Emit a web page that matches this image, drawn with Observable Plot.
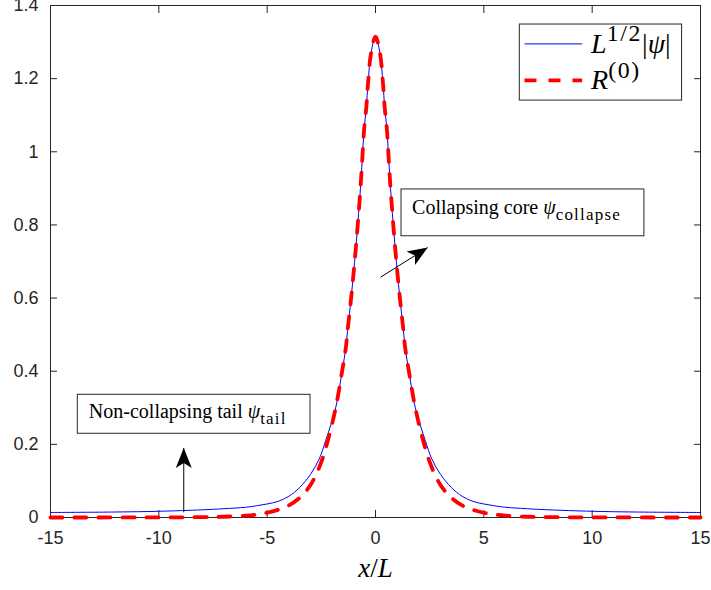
<!DOCTYPE html>
<html>
<head>
<meta charset="utf-8">
<script src="https://cdn.jsdelivr.net/npm/d3@7"></script>
<script src="https://cdn.jsdelivr.net/npm/@observablehq/plot@0.6"></script>
<style>
  html, body { margin: 0; padding: 0; background: #fff; }
</style>
</head>
<body>
<div id="chart"></div>
<script>
// ---- data ----
const psiX = [-15, -12, -10, -8, -7, -6, -5.5, -5, -4.5, -4, -3.5, -3.0, -2.6, -2.3, -1.83, -1.56, -1.365, -1.29, -1.17, -1.03, -0.905, -0.78, -0.67, -0.6, -0.53, -0.425, -0.345, -0.2, 0,
              0.2, 0.345, 0.425, 0.53, 0.6, 0.67, 0.78, 0.905, 1.03, 1.17, 1.29, 1.365, 1.56, 1.83, 2.3, 2.6, 3.0, 3.5, 4, 4.5, 5, 5.5, 6, 7, 8, 10, 12, 15];
const psiY = [0.0137, 0.015, 0.017, 0.021, 0.024, 0.028, 0.032, 0.037, 0.044, 0.058, 0.082, 0.118, 0.16, 0.21, 0.302, 0.393, 0.466, 0.511, 0.575, 0.657, 0.739, 0.831, 0.9215, 0.99, 1.058, 1.121, 1.187, 1.272, 1.315,
              1.272, 1.187, 1.121, 1.058, 0.99, 0.9215, 0.831, 0.739, 0.657, 0.575, 0.511, 0.466, 0.393, 0.302, 0.21, 0.16, 0.118, 0.082, 0.058, 0.044, 0.037, 0.032, 0.028, 0.024, 0.021, 0.017, 0.015, 0.0137];

const r0X = [-15, -10, -8, -7, -6, -5.5, -5, -4.5, -4, -3.5, -3.1, -2.8, -2.5, -2.2, -1.83, -1.56, -1.365, -1.29, -1.17, -1.03, -0.905, -0.78, -0.67, -0.6, -0.53, -0.425, -0.345, -0.2, 0,
             0.2, 0.345, 0.425, 0.53, 0.6, 0.67, 0.78, 0.905, 1.03, 1.17, 1.29, 1.365, 1.56, 1.83, 2.2, 2.5, 2.8, 3.1, 3.5, 4, 4.5, 5, 5.5, 6, 7, 8, 10, 15];
const r0Y = [0, 0.0003, 0.001, 0.002, 0.005, 0.008, 0.013, 0.021, 0.033, 0.054, 0.08, 0.11, 0.152, 0.21, 0.302, 0.393, 0.466, 0.511, 0.575, 0.657, 0.739, 0.831, 0.9215, 0.99, 1.058, 1.121, 1.187, 1.272, 1.315,
             1.272, 1.187, 1.121, 1.058, 0.99, 0.9215, 0.831, 0.739, 0.657, 0.575, 0.511, 0.466, 0.393, 0.302, 0.21, 0.152, 0.11, 0.08, 0.054, 0.033, 0.021, 0.013, 0.008, 0.005, 0.002, 0.001, 0.0003, 0];

const seriesNames = ["$L^{1/2}|\\psi|$", "$R^{(0)}$"];
const xTicks = [-15, -10, -5, 0, 5, 10, 15];
const yTicks = [0, 0.2, 0.4, 0.6, 0.8, 1, 1.2, 1.4];
const xLabel = "$x/L$";

const noteTexts = ["Non-collapsing tail $\\psi_{\\rm tail}$", "Collapsing core $\\psi_{\\rm collapse}$"];
const noteTextX = [-13.23, 1.69];
const noteTextY = [0.29, 0.848];
const noteBoxX1 = [-13.74, 1.2];
const noteBoxX2 = [-3.0, 12.41];
const noteBoxY1 = [0.229, 0.769];
const noteBoxY2 = [0.3355, 0.897];

const arrowX1 = [-8.85, 0.23];
const arrowY1 = [0.014, 0.657];
const arrowX2 = [-8.85, 2.41];
const arrowY2 = [0.19, 0.738];

// legend placement (data coordinates)
const legendBox = {x1: 6.66, x2: 14.15, y1: 1.140, y2: 1.348};
const legendLineX1 = 6.9, legendLineX2 = 9.56, legendTextX = 9.95;
const legendRowY = [1.295, 1.195];

// ---- tables ----
const psiData = psiX.map((x, i) => ({x, y: psiY[i]}));
const r0Data = r0X.map((x, i) => ({x, y: r0Y[i]}));
const notes = noteTexts.map((t, i) => ({t, x: noteTextX[i], y: noteTextY[i], bx1: noteBoxX1[i], bx2: noteBoxX2[i], by1: noteBoxY1[i], by2: noteBoxY2[i]}));
const arrows = arrowX1.map((x1, i) => ({x1, y1: arrowY1[i], x2: arrowX2[i], y2: arrowY2[i]}));
const legendRows = seriesNames.map((name, i) => ({name, y: legendRowY[i], i}));

const INK = "#262626";
const SERIF = "'Liberation Serif', 'Times New Roman', serif";

function headSymbol(angle) {
  const L = 20, W = 16, N = 15;
  const c = Math.cos(angle), s = Math.sin(angle);
  const pts = [[0, 0], [-L, W / 2], [-N, 0], [-L, -W / 2]].map(([x, y]) => [x * c - y * s, x * s + y * c]);
  return {draw(ctx) { ctx.moveTo(...pts[0]); for (let k = 1; k < pts.length; k++) ctx.lineTo(...pts[k]); ctx.closePath(); }};
}

function build(angles) {
  return Plot.plot({
    width: 711, height: 590,
    marginLeft: 50, marginRight: 11, marginTop: 5, marginBottom: 73,
    x: {domain: [-15, 15]},
    y: {domain: [0, 1.4]},
    style: {fontFamily: "'Liberation Sans', Arial, sans-serif", fontSize: "18px", color: INK, background: "#fff", overflow: "visible"},
    marks: [
      Plot.frame({stroke: INK, strokeWidth: 1}),
      Plot.axisX({ticks: xTicks, tickSize: 0, tickPadding: 14, tickFormat: d => String(d), fontSize: 18, label: null}),
      Plot.axisY({ticks: yTicks, tickSize: 0, tickPadding: 12, tickFormat: d => String(d), fontSize: 18, label: null}),
      Plot.axisX({ticks: xTicks, tickSize: -7, tickFormat: () => "", label: null, stroke: INK}),
      Plot.axisX({anchor: "top", ticks: xTicks, tickSize: -7, tickFormat: () => "", label: null, stroke: INK}),
      Plot.axisY({ticks: yTicks, tickSize: -7, tickFormat: () => "", label: null, stroke: INK}),
      Plot.axisY({anchor: "right", ticks: yTicks, tickSize: -7, tickFormat: () => "", label: null, stroke: INK}),
      Plot.text([xLabel], {x: 0, frameAnchor: "bottom", dy: 59, text: d => d, fontFamily: SERIF, fontSize: 27, fill: "#000"}),
      Plot.line(psiData, {x: "x", y: "y", stroke: "#0000ff", strokeWidth: 1, curve: "catmull-rom"}),
      Plot.line(r0Data, {x: "x", y: "y", stroke: "#ff0000", strokeWidth: 3.8, strokeDasharray: "12,12", curve: "catmull-rom"}),
      Plot.rect(notes, {x1: "bx1", x2: "bx2", y1: "by1", y2: "by2", fill: "#fff", stroke: INK, strokeWidth: 1}),
      Plot.text(notes, {x: "x", y: "y", text: "t", textAnchor: "start", fontFamily: SERIF, fontSize: 20, fill: "#000"}),
      Plot.link(arrows, {x1: "x1", y1: "y1", x2: "x2", y2: "y2", stroke: "#000", strokeWidth: 1}),
      Plot.dot([arrows[0]], {x: "x2", y: "y2", symbol: headSymbol(angles[0]), fill: "#000", stroke: "none", r: 5}),
      Plot.dot([arrows[1]], {x: "x2", y: "y2", symbol: headSymbol(angles[1]), fill: "#000", stroke: "none", r: 5}),
      Plot.rect([legendBox], {x1: "x1", x2: "x2", y1: "y1", y2: "y2", fill: "#fff", stroke: INK, strokeWidth: 1}),
      Plot.ruleY([legendRows[0]], {x1: legendLineX1, x2: legendLineX2, y: "y", stroke: "#0000ff", strokeWidth: 1}),
      Plot.ruleY([legendRows[1]], {x1: legendLineX1, x2: legendLineX2, y: "y", stroke: "#ff0000", strokeWidth: 3.8, strokeDasharray: "12,12"}),
      Plot.text(legendRows, {x: legendTextX, y: "y", text: "name", textAnchor: "start", fontFamily: SERIF, fontSize: 28, fill: "#000"})
    ]
  });
}

// first pass: get the scales to orient the arrowheads in screen space
const p0 = build([0, 0]);
const sx = p0.scale("x"), sy = p0.scale("y");
const angles = arrows.map(a => Math.atan2(sy.apply(a.y2) - sy.apply(a.y1), sx.apply(a.x2) - sx.apply(a.x1)));
const chart = build(angles);
document.getElementById("chart").append(chart);

// ---- tiny TeX-like renderer for text marks containing $...$ ----
const SYMBOLS = {psi: "ψ"};
function mathRuns(s, level, rm, runs) {
  let i = 0;
  while (i < s.length) {
    const c = s[i];
    if (c === "^" || c === "_") {
      const lv = c === "^" ? 1 : -1;
      let grp;
      if (s[i + 1] === "{") {
        let j = i + 2, depth = 1;
        while (depth > 0 && j < s.length) { if (s[j] === "{") depth++; else if (s[j] === "}") depth--; j++; }
        grp = s.slice(i + 2, j - 1); i = j;
      } else { grp = s[i + 1]; i += 2; }
      let isRm = false;
      if (grp.startsWith("\\rm ")) { grp = grp.slice(4); isRm = true; }
      mathRuns(grp, lv, isRm, runs);
      continue;
    }
    if (c === "\\") {
      const m = s.slice(i).match(/^\\([a-zA-Z]+)/);
      runs.push({t: SYMBOLS[m[1]] || m[1], italic: !rm, level});
      i += m[0].length;
      continue;
    }
    runs.push({t: c, italic: !rm && /[A-Za-z]/.test(c), level});
    i++;
  }
}
function texRuns(str) {
  const runs = [];
  str.split("$").forEach((p, k) => {
    if (k % 2 === 0) { if (p) runs.push({t: p, italic: false, level: 0}); }
    else mathRuns(p, 0, false, runs);
  });
  return runs;
}
d3.select(chart).selectAll("text").filter(function () { return this.textContent.includes("$"); }).each(function () {
  const el = this;
  const fs = parseFloat(getComputedStyle(el).fontSize);
  const runs = texRuns(el.textContent);
  el.textContent = "";
  let cur = 0;
  for (const r of runs) {
    const target = r.level === 1 ? -0.42 * fs : r.level === -1 ? 0.3 * fs : 0;
    const ts = d3.select(el).append("tspan").text(r.t)
      .attr("font-style", r.italic ? "italic" : "normal")
      .attr("font-size", r.level ? 0.85 * fs : fs);
    if (r.level) ts.attr("letter-spacing", "0.07em");
    if (target !== cur) ts.attr("dy", target - cur);
    cur = target;
  }
});
</script>
</body>
</html>
